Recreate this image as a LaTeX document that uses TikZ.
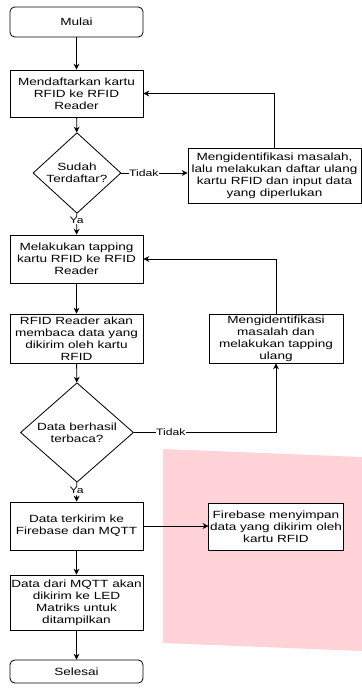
\documentclass[tikz,border=0pt]{standalone}
\usepackage{fontspec}
\setmainfont{Liberation Sans}[FakeStretch=1.3]
\usetikzlibrary{positioning, shapes.geometric, arrows.meta}

\tikzset{
  teks/.style={font=\fontsize{8.9}{10.2}\selectfont, align=center},
  proses/.style={teks, draw, fill=white, line width=0.7pt, minimum width=3.99cm, inner sep=1pt},
  terminal/.style={proses, rounded corners=4pt},
  keputusan/.style={teks, draw, fill=white, line width=0.7pt, diamond, inner sep=0pt},
  panah/.style={-{Stealth[length=5pt, width=5pt]}, line width=0.7pt},
  ket/.style={font=\fontsize{8}{9}\selectfont, fill=white, inner sep=0.5pt}
}

\begin{document}
\begin{tikzpicture}[x=0.03cm, y=-0.03cm]

\useasboundingbox (0,0) rectangle (362,693);

% area merah muda di belakang
\definecolor{merahmuda}{RGB}{255,211,216}
\fill[merahmuda] (163,449) -- (362,457) -- (362,651) -- (163,643) -- cycle;

% kolom kiri
\node[terminal, minimum height=0.9cm] (mulai) at (76.5,22) {Mulai};
\node[proses, minimum height=1.41cm] (daftar) at (76.5,93.5) {Mendaftarkan kartu\\RFID ke RFID\\Reader};
\node[keputusan, minimum width=2.64cm, minimum height=1.92cm] (cek1) at (77,173) {Sudah\\Terdaftar?};
\node[proses, minimum height=1.44cm] (tapping) at (76.5,259) {Melakukan tapping\\kartu RFID ke RFID\\Reader};
\node[proses, minimum height=1.47cm] (baca) at (76.5,338.5) {RFID Reader akan\\membaca data yang\\dikirim oleh kartu\\RFID};
\node[keputusan, minimum width=3.39cm, minimum height=2.37cm] (cek2) at (77,432.5) {Data berhasil\\terbaca?};
\node[proses, minimum height=1.44cm] (kirim) at (76.5,526) {Data terkirim ke\\Firebase dan MQTT};
\node[proses, minimum height=1.65cm] (led) at (76.5,602.5) {Data dari MQTT akan\\dikirim ke LED\\Matriks untuk\\ditampilkan};
\node[terminal, minimum height=0.69cm] (selesai) at (76.5,671.5) {Selesai};

% kolom kanan
\node[proses, minimum width=5.19cm, minimum height=1.65cm] (ident1) at (274.5,175.5) {Mengidentifikasi masalah,\\lalu melakukan daftar ulang\\kartu RFID dan input data\\yang diperlukan};
\node[proses, minimum width=4.02cm, minimum height=1.47cm] (ident2) at (276,338.5) {Mengidentifikasi\\masalah dan\\melakukan tapping\\ulang};
\node[proses, minimum width=4.02cm, minimum height=1.41cm] (firebase) at (276,526.5) {Firebase menyimpan\\data yang dikirim oleh\\kartu RFID};

% alur utama
\draw[panah] (mulai) -- (daftar);
\draw[panah] (daftar) -- (cek1);
\draw[panah] (cek1) -- (tapping) node[ket, pos=0.33] {Ya};
\draw[panah] (tapping) -- (baca);
\draw[panah] (baca) -- (cek2);
\draw[panah] (cek2) -- (kirim) node[ket, pos=0.43] {Ya};
\draw[panah] (kirim) -- (led);
\draw[panah] (led) -- (selesai);

% cabang tidak
\draw[panah] (cek1.east) -- (cek1.east -| ident1.west) node[ket, pos=0.34] {Tidak};
\draw[panah] (ident1.north) |- (daftar.east);
\draw[panah] (cek2.east) -| (ident2.south) node[ket, pos=0.13] {Tidak};
\draw[panah] (ident2.north) |- (tapping.east);
\draw[panah] (kirim) -- (kirim -| firebase.west);

\end{tikzpicture}
\end{document}
